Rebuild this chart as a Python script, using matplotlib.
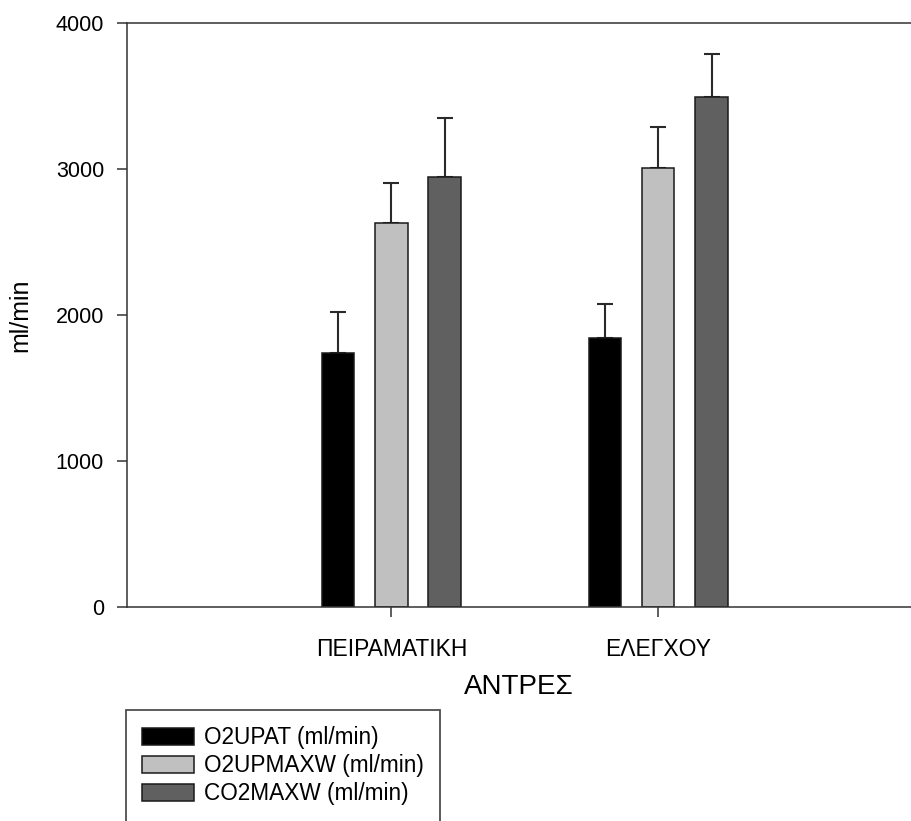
import matplotlib
matplotlib.use("Agg")
import matplotlib.pyplot as plt
import numpy as np

plt.rcParams['font.family'] = ['Liberation Sans', 'DejaVu Sans']

# data
groups = ['ΠΕΙΡΑΜΑΤΙΚΗ', 'ΕΛΕΓΧΟΥ']
series = ['O2UPAT (ml/min)', 'O2UPMAXW (ml/min)', 'CO2MAXW (ml/min)']
o2upat = [1740, 1844]
o2upat_err = [278, 229]
o2upmaxw = [2633, 3010]
o2upmaxw_err = [270, 281]
co2maxw = [2948, 3493]
co2maxw_err = [400, 297]

colors = ['#000000', '#c0c0c0', '#606060']
values = [o2upat, o2upmaxw, co2maxw]
errors = [o2upat_err, o2upmaxw_err, co2maxw_err]

fig = plt.figure(figsize=(9.11, 8.21), dpi=100)
ax = fig.add_axes([126.5 / 911, 1 - 606.7 / 821, 1 - 126.5 / 911, (606.7 - 23.3) / 821])

x = np.arange(len(groups))
width = 0.122
offsets = [-0.2, 0.0, 0.2]

handles = []
for vals, errs, col, off, name in zip(values, errors, colors, offsets, series):
    b = ax.bar(x + off, vals, width, color=col, edgecolor='#1a1a1a', linewidth=1.1,
               label=name, zorder=2)
    # upper error bars only
    ax.errorbar(x + off, vals, yerr=[np.zeros(len(errs)), errs], fmt='none',
                ecolor='#2a2a2a', elinewidth=1.5, capsize=6, capthick=1.5, zorder=1)
    handles.append(b)

ax.set_xlim(-0.9925, 1.9476)
ax.set_ylim(0, 4000)
ax.set_yticks([0, 1000, 2000, 3000, 4000])
ax.set_xticks(x)
ax.set_xticklabels(groups)

for s in ['left', 'bottom', 'top']:
    ax.spines[s].set_color('#333333')
    ax.spines[s].set_linewidth(1.1)
ax.spines['right'].set_visible(False)

ax.tick_params(axis='y', direction='out', length=7.2, width=1.1, color='#333333',
               labelsize=15.5, pad=9)
ax.tick_params(axis='x', direction='out', length=7.2, width=1.1, color='#333333',
               labelsize=16.5, pad=15)

ax.set_xlabel('ΑΝΤΡΕΣ', fontsize=20, labelpad=10)
ax.set_ylabel('ml/min', fontsize=18, labelpad=17)

leg = fig.legend(handles=handles, labels=series, loc='upper left',
                 bbox_to_anchor=(125.7 / 911, 1 - 710 / 821),
                 bbox_transform=fig.transFigure, fontsize=16.3,
                 frameon=True, fancybox=False, shadow=False,
                 handlelength=2.3, handleheight=0.78, handletextpad=0.44,
                 labelspacing=0.22, borderpad=0.72, borderaxespad=0)
leg.get_frame().set_edgecolor('#222222')
leg.get_frame().set_linewidth(1.3)

fig.savefig('out.png', dpi=100)
